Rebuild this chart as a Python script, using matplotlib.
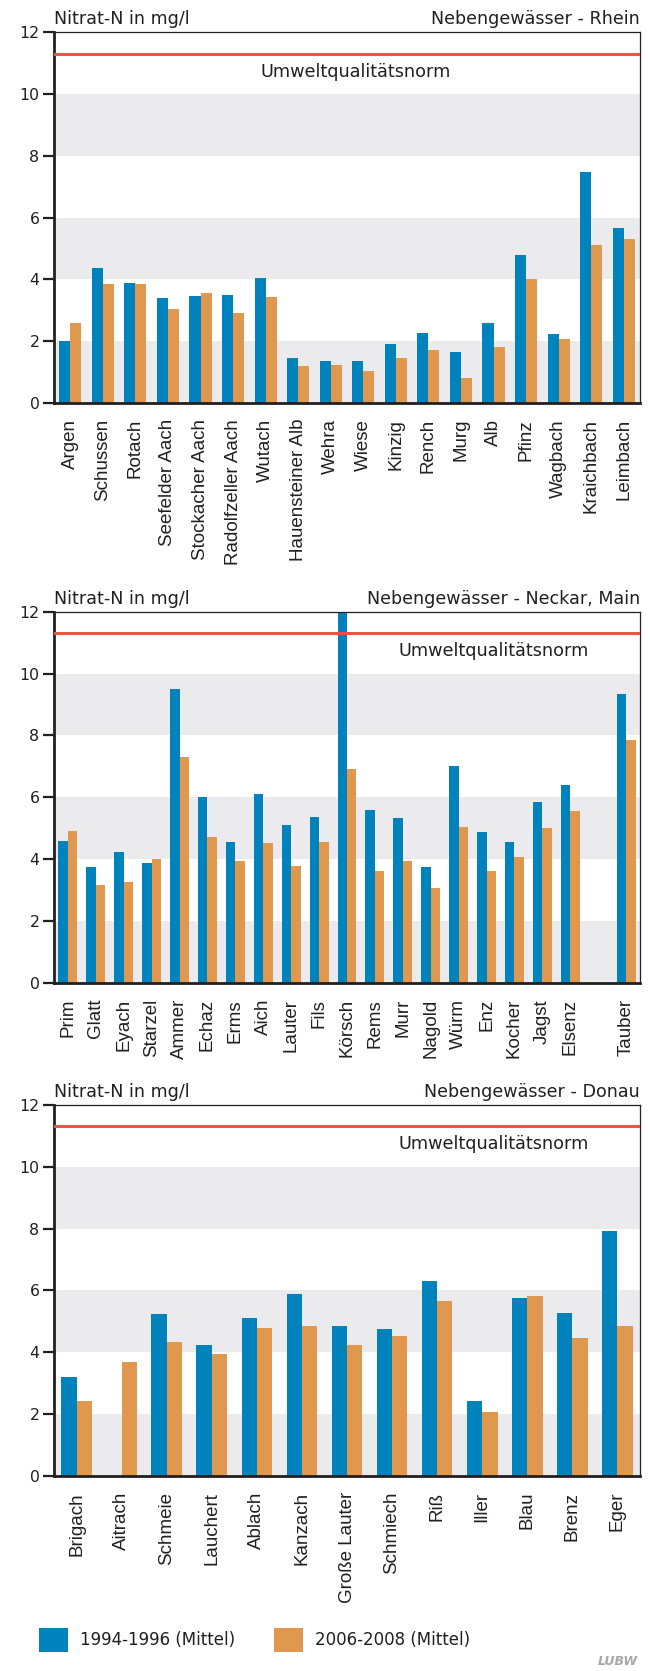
import matplotlib
matplotlib.use("Agg")
import matplotlib.pyplot as plt
from matplotlib.patches import Patch
import numpy as np

plt.rcParams['font.family'] = ['DejaVu Sans']

# ---------------- data ----------------
rhein_names = ["Argen", "Schussen", "Rotach", "Seefelder Aach", "Stockacher Aach",
               "Radolfzeller Aach", "Wutach", "Hauensteiner Alb", "Wehra", "Wiese",
               "Kinzig", "Rench", "Murg", "Alb", "Pfinz", "Wagbach", "Kraichbach", "Leimbach"]
rhein_1994 = [2.02, 4.38, 3.89, 3.41, 3.47, 3.50, 4.05, 1.47, 1.37, 1.37,
              1.92, 2.27, 1.66, 2.60, 4.80, 2.24, 7.48, 5.67]
rhein_2006 = [2.60, 3.86, 3.86, 3.05, 3.57, 2.92, 3.44, 1.21, 1.24, 1.05,
              1.47, 1.73, 0.82, 1.82, 4.02, 2.08, 5.12, 5.32]

neckar_names = ["Prim", "Glatt", "Eyach", "Starzel", "Ammer", "Echaz", "Erms", "Aich",
                "Lauter", "Fils", "Körsch", "Rems", "Murr", "Nagold", "Würm", "Enz",
                "Kocher", "Jagst", "Elsenz", "", "Tauber"]
neckar_1994 = [4.60, 3.76, 4.24, 3.89, 9.50, 6.02, 4.56, 6.11, 5.11, 5.37, 12.0,
               5.60, 5.34, 3.76, 7.02, 4.89, 4.56, 5.86, 6.40, np.nan, 9.34]
neckar_2006 = [4.92, 3.18, 3.27, 4.02, 7.31, 4.73, 3.95, 4.53, 3.79, 4.56, 6.92,
               3.63, 3.95, 3.08, 5.05, 3.63, 4.08, 5.02, 5.57, np.nan, 7.86]

donau_names = ["Brigach", "Aitrach", "Schmeie", "Lauchert", "Ablach", "Kanzach",
               "Große Lauter", "Schmiech", "Riß", "Iller", "Blau", "Brenz", "Eger"]
donau_1994 = [3.20, np.nan, 5.24, 4.24, 5.11, 5.88, 4.85, 4.75, 6.30, 2.42, 5.75, 5.27, 7.92]
donau_2006 = [2.42, 3.69, 4.33, 3.94, 4.78, 4.85, 4.24, 4.53, 5.66, 2.07, 5.82, 4.46, 4.85]

panel_titles = ["Nebengewässer - Rhein", "Nebengewässer - Neckar, Main", "Nebengewässer - Donau"]
y_label = "Nitrat-N in mg/l"
norm_value = 11.3
norm_label = "Umweltqualitätsnorm"
series_labels = ["1994-1996 (Mittel)", "2006-2008 (Mittel)"]
y_ticks = [0, 2, 4, 6, 8, 10, 12]

# ---------------- style ----------------
BLUE = "#0083BC"
ORANGE = "#E0984F"
RED = "#E8563F"
BAND = "#EBEBED"
TXT = "#231F20"

W, H = 650, 1671
fig = plt.figure(figsize=(W / 100, H / 100), dpi=100)

left = 54 / W
width = (640 - 54) / W
panels = [
    (rhein_names, rhein_1994, rhein_2006, 32.3, 403.0, 0.514),
    (neckar_names, neckar_1994, neckar_2006, 611.7, 983.0, 0.75),
    (donau_names, donau_1994, donau_2006, 1104.8, 1476.0, 0.75),
]

bw = 0.34
for i, (names, v1, v2, top, bot, txtx) in enumerate(panels):
    ax = fig.add_axes([left, 1 - bot / H, width, (bot - top) / H])
    n = len(names)
    x = np.arange(n)
    for lo in (0, 4, 8):
        ax.axhspan(lo, lo + 2, color=BAND, lw=0, zorder=0)
    ax.bar(x - bw / 2, v1, width=bw, color=BLUE, zorder=2, linewidth=0)
    ax.bar(x + bw / 2, v2, width=bw, color=ORANGE, zorder=2, linewidth=0)
    ax.axhline(norm_value, color=RED, lw=2.2, zorder=3)
    ax.text(txtx, 10.72 / 12, norm_label, transform=ax.transAxes,
            fontsize=12.7, color=TXT, ha='center', va='center', zorder=4)
    ax.set_xlim(-0.5, n - 0.5)
    ax.set_ylim(0, 12)
    ax.set_yticks(y_ticks)
    ax.set_yticklabels([str(t) for t in y_ticks], fontsize=11.3, color=TXT)
    ax.tick_params(axis='y', direction='out', length=8, width=1.6, color=TXT, pad=2.5)
    ax.set_xticks(x)
    ax.set_xticklabels(names, rotation=90, fontsize=13.5, color=TXT,
                       family='Liberation Sans', va='top', ha='center')
    ax.tick_params(axis='x', length=0, pad=11.5)
    for s in ('left', 'bottom'):
        ax.spines[s].set_linewidth(2.0)
        ax.spines[s].set_color(TXT)
    for s in ('top', 'right'):
        ax.spines[s].set_linewidth(0.9)
        ax.spines[s].set_color(TXT)
    ax.set_facecolor('white')
    ax.text(0.0, 1 + 8 / (bot - top), y_label, transform=ax.transAxes,
            fontsize=12.6, color=TXT, ha='left', va='baseline')
    ax.text(1.0, 1 + 8 / (bot - top), panel_titles[i], transform=ax.transAxes,
            fontsize=12.6, color=TXT, ha='right', va='baseline')

handles = [Patch(facecolor=BLUE, edgecolor='none'), Patch(facecolor=ORANGE, edgecolor='none')]
fig.legend(handles, series_labels, loc='center left', bbox_to_anchor=(39 / W, 1 - 1640 / H),
           ncol=2, frameon=False, fontsize=12, handlelength=1.75, handleheight=1.75,
           handletextpad=0.72, columnspacing=2.3, borderpad=0, borderaxespad=0,
           labelcolor=TXT)

fig.text(638 / W, 1 - 1668 / H, "LUBW", ha='right', va='bottom', color='#A8A8A8',
         fontsize=9, style='italic', weight='bold')

fig.savefig("out.png", dpi=100)
